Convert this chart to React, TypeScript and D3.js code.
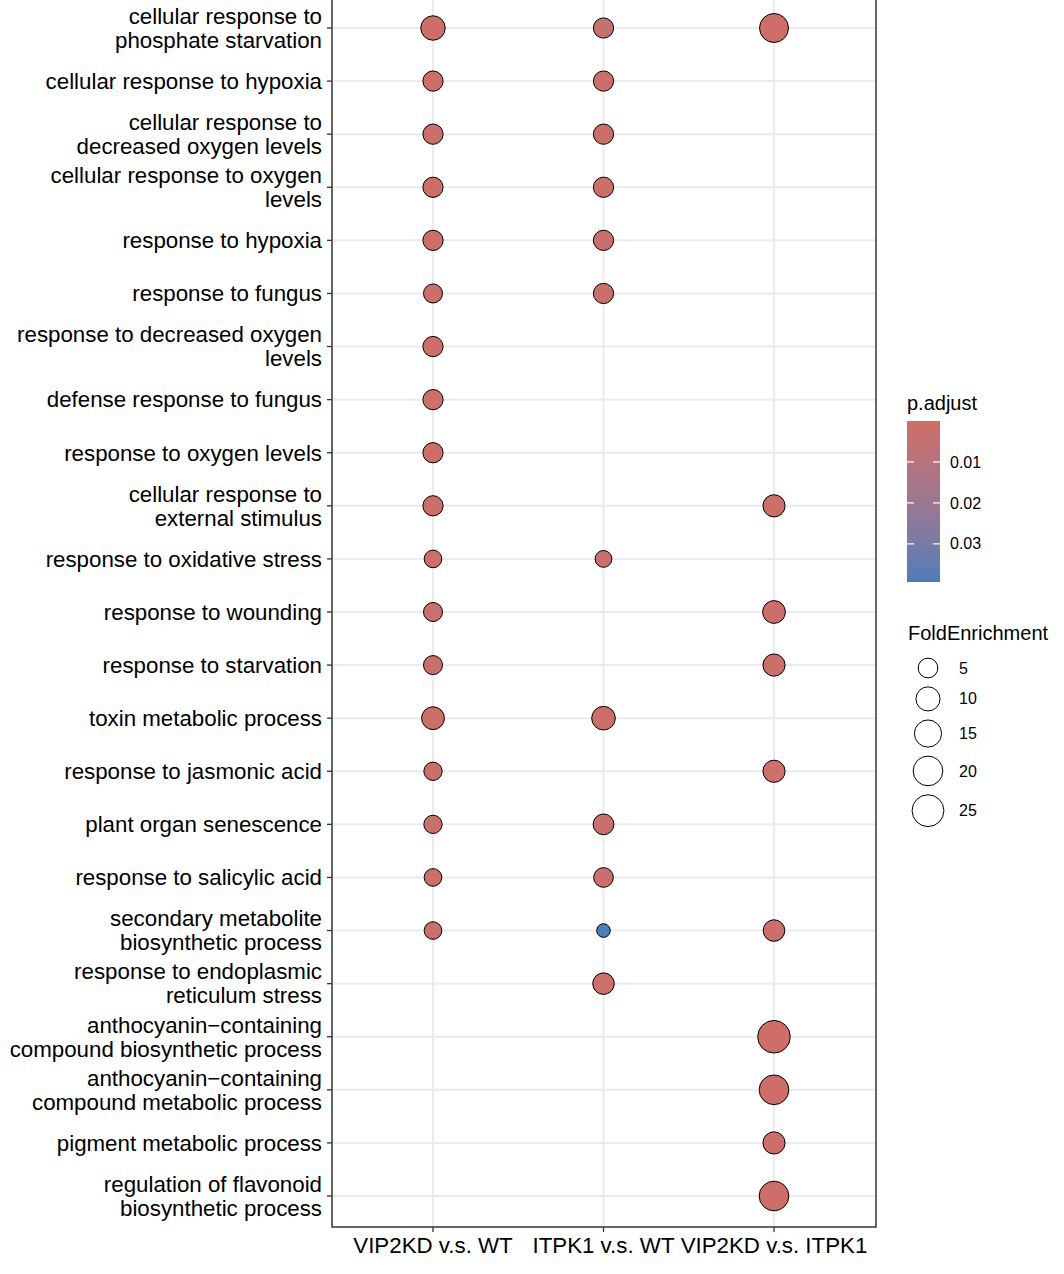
import * as d3 from "d3";

// GO terms, top to bottom ("\n" = wrapped label)
const terms = [
  "cellular response to\nphosphate starvation",
  "cellular response to hypoxia",
  "cellular response to\ndecreased oxygen levels",
  "cellular response to oxygen\nlevels",
  "response to hypoxia",
  "response to fungus",
  "response to decreased oxygen\nlevels",
  "defense response to fungus",
  "response to oxygen levels",
  "cellular response to\nexternal stimulus",
  "response to oxidative stress",
  "response to wounding",
  "response to starvation",
  "toxin metabolic process",
  "response to jasmonic acid",
  "plant organ senescence",
  "response to salicylic acid",
  "secondary metabolite\nbiosynthetic process",
  "response to endoplasmic\nreticulum stress",
  "anthocyanin\u2212containing\ncompound biosynthetic process",
  "anthocyanin\u2212containing\ncompound metabolic process",
  "pigment metabolic process",
  "regulation of flavonoid\nbiosynthetic process",
];

const comparisons = ["VIP2KD v.s. WT", "ITPK1 v.s. WT", "VIP2KD v.s. ITPK1"];

// FoldEnrichment per comparison (null = term not enriched)
const foldVip2kdWt = [10.5, 5.5, 5.5, 5.5, 5.5, 4.5, 5.5, 5.5, 5.5, 5.5, 3.6, 4.5, 4.5, 8.3, 4.0, 4.0, 3.6, 3.6, null, null, null, null, null];
const foldItpk1Wt = [5.5, 5.5, 5.5, 5.5, 5.5, 5.5, null, null, null, null, 3.2, null, null, 9.3, null, 6.0, 5.0, 2.5, 6.8, null, null, null, null];
const foldVip2kdItpk1 = [18.5, null, null, null, null, null, null, null, null, 7.5, null, 8.2, 7.5, null, 7.5, null, null, 6.8, null, 27, 20, 7.5, 20];

// p.adjust per comparison
const padjVip2kdWt = [0.0002, 0.0004, 0.0004, 0.0004, 0.0006, 0.0008, 0.0006, 0.0009, 0.0007, 0.0005, 0.0012, 0.0010, 0.0011, 0.0003, 0.0013, 0.0015, 0.0016, 0.0018, null, null, null, null, null];
const padjItpk1Wt = [0.0045, 0.0012, 0.0012, 0.0012, 0.0015, 0.0016, null, null, null, null, 0.0025, null, null, 0.0008, null, 0.0020, 0.0022, 0.0393, 0.0010, null, null, null, null];
const padjVip2kdItpk1 = [0.00001, null, null, null, null, null, null, null, null, 0.0006, null, 0.0005, 0.0007, null, 0.0009, null, null, 0.0011, null, 0.00002, 0.00003, 0.0008, 0.00004];

const foldSeries = [foldVip2kdWt, foldItpk1Wt, foldVip2kdItpk1];
const padjSeries = [padjVip2kdWt, padjItpk1Wt, padjVip2kdItpk1];

const sizeBreaks = [5, 10, 15, 20, 25];
const colorBreaks = [0.01, 0.02, 0.03];

const W = 1064;
const H = 1274;
const FONT = "'Liberation Sans', Arial, Helvetica, sans-serif";

export default function App() {
  const panel = { left: 332, right: 876, top: -4, bottom: 1227 };

  const x = d3.scalePoint<string>().domain(comparisons).range([433, 774]);
  const y = d3.scalePoint<string>().domain(terms).range([28, 1196]);

  const points: { term: string; comp: string; fe: number; p: number }[] = [];
  comparisons.forEach((c, ci) => {
    terms.forEach((t, ti) => {
      const fe = foldSeries[ci][ti];
      const p = padjSeries[ci][ti];
      if (fe != null && p != null) points.push({ term: t, comp: c, fe, p });
    });
  });

  const feExt = d3.extent(points, (d) => d.fe) as [number, number];
  const pExt = d3.extent(points, (d) => d.p) as [number, number];

  // ggplot-like area scale: radius grows with sqrt of rescaled value
  const rBase = d3.scaleSqrt().domain([0, feExt[1] - feExt[0]]).range([6.8, 16.3]);
  const size = (v: number) => rBase(Math.max(0, v - feExt[0]));

  const color = d3
    .scaleLinear<string>()
    .domain(pExt)
    .range(["#CF6E68", "#4A7DBA"])
    .interpolate(d3.interpolateLab);

  // colour bar
  const barX = 907;
  const barW = 33;
  const barY = d3.scaleLinear().domain(pExt).range([421, 582]);
  const stops = d3.range(0, 1.0001, 0.05);

  // size legend key positions
  const keyY: number[] = [];
  sizeBreaks.forEach((b, i) => {
    if (i === 0) keyY.push(668);
    else keyY.push(keyY[i - 1] + size(sizeBreaks[i - 1]) + size(b) + 9);
  });

  return (
    <svg
      width={W}
      height={H}
      style={{ position: "absolute", left: 0, top: 0, background: "#fff" }}
      fontFamily={FONT}
    >
      <rect width={W} height={H} fill="#fff" />
      {/* grid */}
      {terms.map((t) => (
        <line key={t} x1={panel.left} x2={panel.right} y1={y(t)} y2={y(t)} stroke="#EBEBEB" strokeWidth={2} />
      ))}
      {comparisons.map((c) => (
        <line key={c} x1={x(c)} x2={x(c)} y1={panel.top} y2={panel.bottom} stroke="#EBEBEB" strokeWidth={2} />
      ))}

      {/* points, largest first */}
      {points
        .slice()
        .sort((a, b) => b.fe - a.fe)
        .map((d) => (
          <circle
            key={d.term + d.comp}
            cx={x(d.comp)}
            cy={y(d.term)}
            r={size(d.fe)}
            fill={color(d.p)}
            stroke="#000"
            strokeWidth={1}
          />
        ))}

      {/* panel border */}
      <rect
        x={panel.left}
        y={panel.top}
        width={panel.right - panel.left}
        height={panel.bottom - panel.top}
        fill="none"
        stroke="#333"
        strokeWidth={1.5}
      />

      {/* y axis */}
      {terms.map((t) => {
        const lines = t.split("\n");
        const yy = y(t)!;
        return (
          <g key={t}>
            <line x1={panel.left - 5} x2={panel.left} y1={yy} y2={yy} stroke="#333" strokeWidth={1.3} />
            {lines.map((ln, i) => (
              <text
                key={i}
                x={322}
                y={yy + (i - (lines.length - 1) / 2) * 24}
                dy="0.35em"
                textAnchor="end"
                fontSize={22.3}
                fill="#000"
              >
                {ln}
              </text>
            ))}
          </g>
        );
      })}

      {/* x axis */}
      {comparisons.map((c) => (
        <g key={c}>
          <line x1={x(c)} x2={x(c)} y1={panel.bottom} y2={panel.bottom + 5} stroke="#333" strokeWidth={1.3} />
          <text x={x(c)} y={1245} dy="0.35em" textAnchor="middle" fontSize={22.3} fill="#000">
            {c}
          </text>
        </g>
      ))}

      {/* p.adjust legend */}
      <defs>
        <linearGradient id="pgrad" x1="0" x2="0" y1="0" y2="1">
          {stops.map((s) => (
            <stop key={s} offset={s} stopColor={color(pExt[0] + s * (pExt[1] - pExt[0]))} />
          ))}
        </linearGradient>
      </defs>
      <text x={907} y={403} dy="0.35em" fontSize={20} fill="#000">
        p.adjust
      </text>
      <rect x={barX} y={barY(pExt[0])} width={barW} height={barY(pExt[1]) - barY(pExt[0])} fill="url(#pgrad)" />
      {colorBreaks.map((b) => (
        <g key={b}>
          <line x1={barX} x2={barX + 7} y1={barY(b)} y2={barY(b)} stroke="#fff" strokeWidth={1.2} />
          <line x1={barX + barW - 7} x2={barX + barW} y1={barY(b)} y2={barY(b)} stroke="#fff" strokeWidth={1.2} />
          <text x={950} y={barY(b)} dy="0.35em" fontSize={16} fill="#000">
            {b.toFixed(2)}
          </text>
        </g>
      ))}

      {/* FoldEnrichment legend */}
      <text x={908} y={633} dy="0.35em" fontSize={20} fill="#000">
        FoldEnrichment
      </text>
      {sizeBreaks.map((b, i) => (
        <g key={b}>
          <circle cx={928} cy={keyY[i]} r={size(b)} fill="#fff" stroke="#000" strokeWidth={1} />
          <text x={959} y={keyY[i]} dy="0.35em" fontSize={16} fill="#000">
            {b}
          </text>
        </g>
      ))}
    </svg>
  );
}
